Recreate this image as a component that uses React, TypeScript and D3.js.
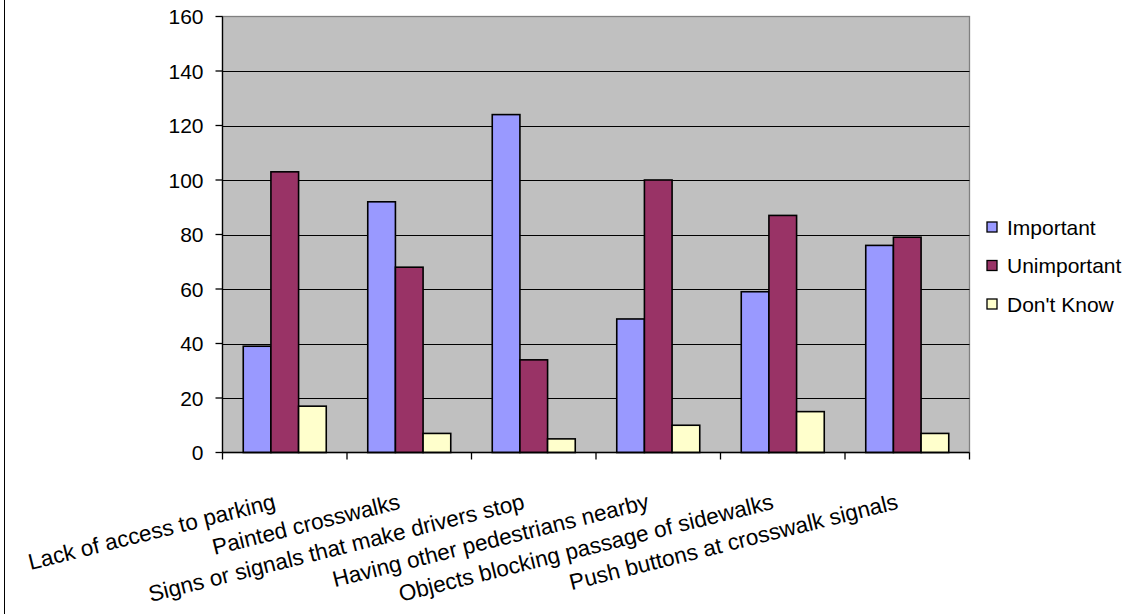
import React from "react";
import * as d3 from "d3";

const categories = [
  "Lack of access to parking",
  "Painted crosswalks",
  "Signs or signals that make drivers stop",
  "Having other pedestrians nearby",
  "Objects blocking passage of sidewalks",
  "Push buttons at crosswalk signals",
];
const seriesNames = ["Important", "Unimportant", "Don't Know"];
const important = [39, 92, 124, 49, 59, 76];
const unimportant = [103, 68, 34, 100, 87, 79];
const dontKnow = [17, 7, 5, 10, 15, 7];
const seriesValues = [important, unimportant, dontKnow];
const colors = ["#9999FF", "#993366", "#FFFFCC"];
const yTicks = [0, 20, 40, 60, 80, 100, 120, 140, 160];

const W = 1135;
const H = 614;
const plot = { left: 222.5, right: 969.5, top: 16.5, bottom: 452.5 };
const FONT = "'Liberation Sans', Arial, sans-serif";

export default function App() {
  const x = d3
    .scaleBand<string>()
    .domain(categories)
    .range([plot.left, plot.right])
    .padding(0);
  const y = d3.scaleLinear().domain([0, 160]).range([plot.bottom, plot.top]);
  const cw = x.bandwidth();
  const bw = cw / 4.5;
  const boundaries = d3.range(categories.length + 1).map((i) => plot.left + i * cw);

  return (
    <svg
      width={W}
      height={H}
      style={{ position: "absolute", left: 0, top: 0, background: "#fff" }}
      fontFamily={FONT}
    >
      <rect x={0} y={0} width={W} height={H} fill="#fff" />
      <line x1={4.5} x2={4.5} y1={0} y2={H} stroke="#000" strokeWidth={1} />
      {/* plot area */}
      <rect
        x={plot.left}
        y={plot.top}
        width={plot.right - plot.left}
        height={plot.bottom - plot.top}
        fill="#C0C0C0"
        stroke="#808080"
        strokeWidth={1.3}
      />
      {/* gridlines */}
      {yTicks
        .filter((t) => t > 0 && t < 160)
        .map((t) => (
          <line
            key={"g" + t}
            x1={plot.left}
            x2={plot.right}
            y1={Math.round(y(t)) + 0.5}
            y2={Math.round(y(t)) + 0.5}
            stroke="#000"
            strokeWidth={1}
          />
        ))}
      {/* bars */}
      {seriesValues.map((vals, si) =>
        vals.map((v, ci) => {
          const bx = (x(categories[ci]) as number) + 0.75 * bw + si * bw;
          return (
            <rect
              key={`b${si}-${ci}`}
              x={bx}
              y={y(v)}
              width={bw}
              height={y(0) - y(v)}
              fill={colors[si]}
              stroke="#000"
              strokeWidth={1.6}
            />
          );
        })
      )}
      {/* axes */}
      <line x1={plot.left} x2={plot.left} y1={plot.top} y2={plot.bottom} stroke="#000" strokeWidth={1.3} />
      <line x1={plot.left} x2={plot.right} y1={plot.bottom} y2={plot.bottom} stroke="#000" strokeWidth={1.3} />
      {yTicks.map((t) => (
        <g key={"yt" + t}>
          <line x1={plot.left - 7} x2={plot.left} y1={y(t)} y2={y(t)} stroke="#000" strokeWidth={1.3} />
          <text
            x={plot.left - 19}
            y={y(t)}
            dy="0.36em"
            textAnchor="end"
            fontSize={21}
            fill="#000"
          >
            {t}
          </text>
        </g>
      ))}
      {boundaries.map((bx, i) => (
        <line key={"xt" + i} x1={bx} x2={bx} y1={plot.bottom} y2={plot.bottom + 7} stroke="#000" strokeWidth={1.3} />
      ))}
      {categories.map((c) => {
        const cx = (x(c) as number) + cw / 2 - 8;
        const cy = plot.bottom + 56;
        return (
          <text
            key={"xl" + c}
            x={cx}
            y={cy}
            transform={`rotate(-14, ${cx}, ${cy})`}
            textAnchor="end"
            fontSize={22.5}
            fill="#000"
          >
            {c}
          </text>
        );
      })}
      {/* legend */}
      {seriesNames.map((s, i) => {
        const ly = 227 + i * 38.5;
        return (
          <g key={"lg" + s}>
            <rect x={987} y={ly - 5} width={10} height={10} fill={colors[i]} stroke="#000" strokeWidth={1.3} />
            <text x={1007} y={ly} dy="0.36em" fontSize={21} fill="#000">
              {s}
            </text>
          </g>
        );
      })}
    </svg>
  );
}
